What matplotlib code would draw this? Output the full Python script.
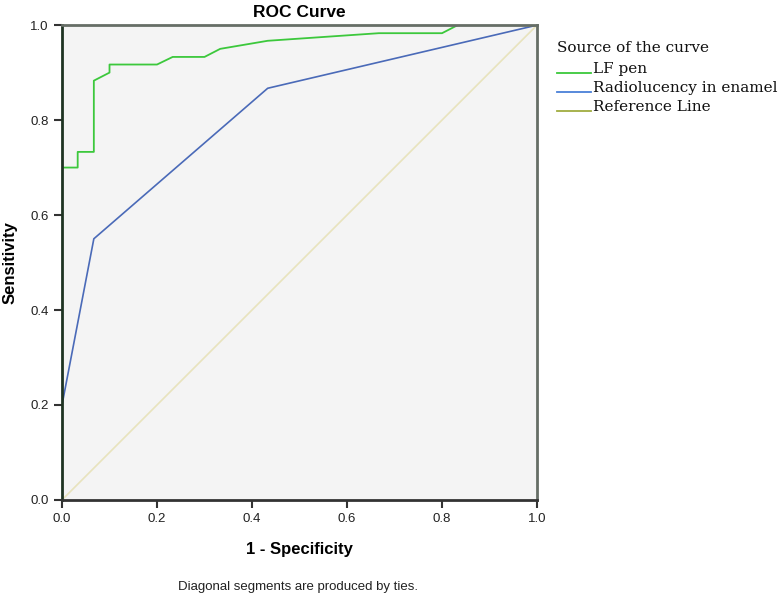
import matplotlib
matplotlib.use("Agg")
import matplotlib.pyplot as plt

# ROC points (1 - specificity, sensitivity)
lf_fpr = [0.0, 0.0, 0.033, 0.033, 0.067, 0.067, 0.1, 0.1, 0.2, 0.233, 0.3, 0.333,
          0.433, 0.667, 0.8, 0.833, 1.0]
lf_tpr = [0.0, 0.7, 0.7, 0.733, 0.733, 0.883, 0.9, 0.917, 0.917, 0.933, 0.933, 0.95,
          0.967, 0.983, 0.983, 1.0, 1.0]

rad_fpr = [0.0, 0.0, 0.067, 0.433, 1.0]
rad_tpr = [0.0, 0.2, 0.55, 0.867, 1.0]

ref_x = [0.0, 1.0]
ref_y = [0.0, 1.0]

ticks = [0.0, 0.2, 0.4, 0.6, 0.8, 1.0]
tick_labels = ["0.0", "0.2", "0.4", "0.6", "0.8", "1.0"]

legend_names = ["LF pen", "Radiolucency in enamel", "Reference Line"]
legend_colors = ['#3cc83c', '#4a80d8', '#a0ac40']

plt.rcParams['font.family'] = ['Liberation Sans', 'DejaVu Sans']

fig = plt.figure(figsize=(7.8, 5.98), dpi=100)
ax = fig.add_axes([0.0795, 0.164, 0.609, 0.794])
ax.set_facecolor('#f4f4f4')

ax.plot(ref_x, ref_y, color='#e8e3bd', linewidth=1.2)
ax.plot(rad_fpr, rad_tpr, color='#4a6ab8', linewidth=1.2)
ax.plot(lf_fpr, lf_tpr, color='#3cc83c', linewidth=1.3)

ax.set_xlim(0, 1)
ax.set_ylim(0, 1)
ax.set_xticks(ticks)
ax.set_xticklabels(tick_labels)
ax.set_yticks(ticks)
ax.set_yticklabels(tick_labels)
ax.tick_params(direction='out', length=6, width=1.5, color='#333333', labelsize=9.5,
               labelcolor='#222222')

ax.spines['left'].set_color('#1e3322')
ax.spines['left'].set_linewidth(2)
ax.spines['bottom'].set_color('#333333')
ax.spines['bottom'].set_linewidth(2)
ax.spines['top'].set_color('#666e66')
ax.spines['top'].set_linewidth(2)
ax.spines['right'].set_color('#666e66')
ax.spines['right'].set_linewidth(2)

ax.set_title("ROC Curve", fontsize=12.5, fontweight='bold', pad=6)
ax.set_xlabel("1 - Specificity", fontsize=12, fontweight='bold', labelpad=12)
ax.set_ylabel("Sensitivity", fontsize=12, fontweight='bold', labelpad=9)

fig.text(0.382, 0.014, "Diagonal segments are produced by ties.", ha='center',
         fontsize=9.5, color='#222222')

# legend drawn as text, SPSS style: underscore swatches sitting on the baseline
leg_x = 557 / 780
fig.text(leg_x, 1 - 51.5 / 598, "Source of the curve", family='DejaVu Serif',
         fontsize=11, va='baseline', color='#111111')
for i, (name, col) in enumerate(zip(legend_names, legend_colors)):
    yb = 1 - (73 + 19 * i) / 598
    fig.add_artist(plt.Line2D([leg_x, 591 / 780], [yb, yb], color=col, linewidth=1.3,
                              transform=fig.transFigure))
    fig.text(593 / 780, yb, name, family='DejaVu Serif', fontsize=11, va='baseline',
             color='#111111')

fig.savefig("out.png", dpi=100)
